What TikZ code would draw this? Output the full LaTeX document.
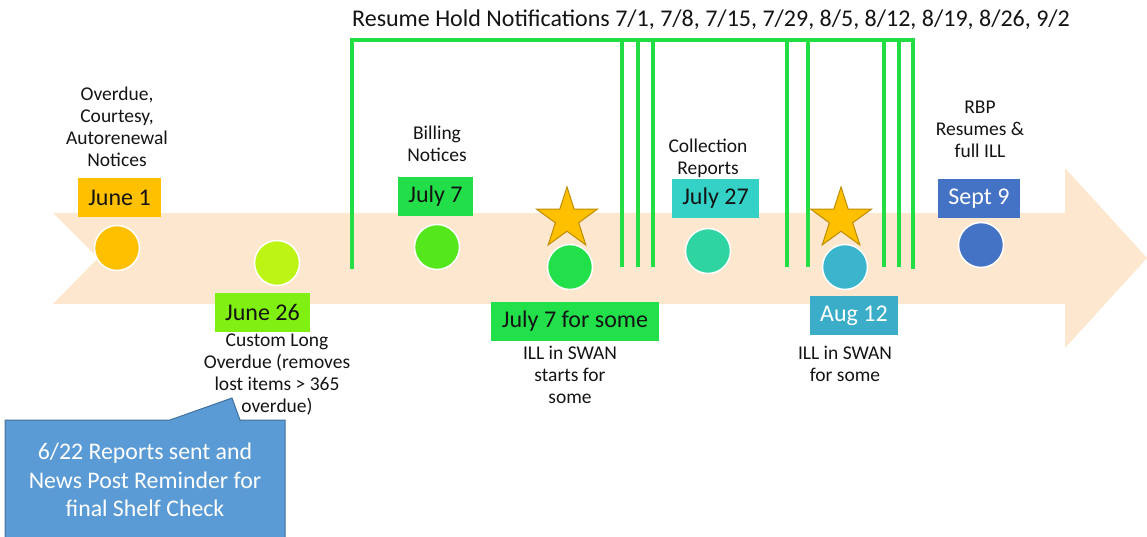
\documentclass[tikz,border=0pt]{standalone}
\usepackage{fontspec}
\setmainfont{Carlito}
\usetikzlibrary{shapes.geometric}

\definecolor{band}{RGB}{253,231,206}
\definecolor{hold}{RGB}{34,221,68}
\definecolor{cJuneA}{RGB}{255,192,0}
\definecolor{cJuneBbox}{RGB}{128,240,18}
\definecolor{cJuneBdot}{RGB}{190,244,20}
\definecolor{cJulyAbox}{RGB}{34,222,72}
\definecolor{cJulyAdot}{RGB}{84,232,28}
\definecolor{cJulyB}{RGB}{34,224,74}
\definecolor{cJulyCbox}{RGB}{51,209,198}
\definecolor{cJulyCdot}{RGB}{46,213,160}
\definecolor{cAugbox}{RGB}{59,173,201}
\definecolor{cAugdot}{RGB}{58,181,204}
\definecolor{cSept}{RGB}{68,114,196}
\definecolor{callfill}{RGB}{91,155,213}
\definecolor{callline}{RGB}{65,113,156}
\definecolor{starline}{RGB}{190,140,0}
\definecolor{ink}{RGB}{20,20,20}

\tikzset{
  smalltext/.style={align=center, inner sep=0pt, text=ink,
    font=\fontsize{19.5}{22}\selectfont},
  datebox/.style={inner sep=0pt, minimum height=39pt, text=ink,
    font=\fontsize{24}{28}\selectfont},
  dot/.style={circle, minimum size=45pt, inner sep=0pt, draw=white, line width=1.5pt},
  holdline/.style={draw=hold, line width=3.5pt},
  mark star/.style={star, star points=5, star point ratio=2.618, minimum size=64pt,
    inner sep=0pt, fill=cJuneA, draw=starline, line width=1pt},
}

\begin{document}
\begin{tikzpicture}[x=1pt,y=-1pt]
\clip (0,0) rectangle (1147,537);

% timeline arrow
\fill[band] (53,213) -- (1065,213) -- (1065,168) -- (1147,258) -- (1065,348)
  -- (1065,304) -- (53,304) -- (98,258) -- cycle;

% hold-notification bracket
\node[font=\fontsize{24}{28}\selectfont, text=ink] (holdtitle) at (711,20)
  {Resume Hold Notifications 7/1, 7/8, 7/15, 7/29, 8/5, 8/12, 8/19, 8/26, 9/2};
\draw[holdline, line cap=rect] (352,267) -- (352,40) -- (913,40) -- (913,267);
\foreach \x in {622,638,653,787,808,884,899}
  \draw[holdline] (\x,40) -- (\x,267);

% milestones
\node[dot, fill=cJuneA] (d1) at (117,248) {};
\node[datebox, fill=cJuneA, minimum width=83pt] (b1) at (119.5,197.5) {June 1};
\node[smalltext] (t1) at (117,127) {Overdue,\\Courtesy,\\Autorenewal\\Notices};

\node[dot, fill=cJuneBdot] (d2) at (277,263) {};
\node[datebox, fill=cJuneBbox, minimum width=95pt] (b2) at (262.5,312.5) {June 26};
\node[smalltext] (t2) at (277,375) {Custom Long\\Overdue (removes\\lost items > 365\\overdue)};

\node[dot, fill=cJulyAdot] (d3) at (437,247) {};
\node[datebox, fill=cJulyAbox, minimum width=75pt] (b3) at (435.5,196.5) {July 7};
\node[smalltext] (t3) at (437,144) {Billing\\Notices};

\node[dot, fill=cJulyB] (d4) at (570,267) {};
\node[datebox, fill=cJulyB, minimum width=168pt] (b4) at (575,321.5) {July 7 for some};
\node[smalltext] (t4) at (570,375) {ILL in SWAN\\starts for\\some};
\node[mark star] (s4) at (567,219) {};

\node[dot, fill=cJulyCdot] (d5) at (708,251) {};
\node[datebox, fill=cJulyCbox, minimum width=87pt] (b5) at (715.5,198.5) {July 27};
\node[smalltext] (t5) at (708,158) {Collection\\Reports};

\node[dot, fill=cAugdot] (d6) at (845,267) {};
\node[datebox, fill=cAugbox, minimum width=88pt, text=white] (b6) at (854,315.5) {Aug 12};
\node[smalltext] (t6) at (845,364) {ILL in SWAN\\for some};
\node[mark star] (s6) at (841,219) {};

\node[dot, fill=cSept] (d7) at (981,245) {};
\node[datebox, fill=cSept, minimum width=82pt, text=white] (b7) at (979,198.5) {Sept 9};
\node[smalltext] (t7) at (980,129) {RBP\\Resumes \&\\full ILL};

% callout
\coordinate (tip) at (232,398);
\filldraw[fill=callfill, draw=callline, line width=1pt]
  (5,545) -- (5,420) -- (170,420) -- (tip) -- (240,420) -- (285,420) -- (285,545);
\node[align=center, text=white, inner sep=0pt,
  font=\fontsize{23.8}{28.5}\selectfont] (note) at (145,480)
  {6/22 Reports sent and\\News Post Reminder for\\final Shelf Check};
\end{tikzpicture}
\end{document}
